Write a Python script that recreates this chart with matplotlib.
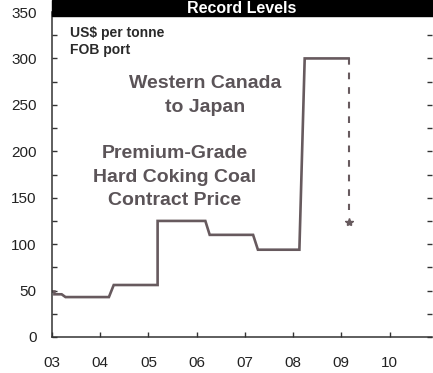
import matplotlib
matplotlib.use("Agg")
import matplotlib.pyplot as plt
from matplotlib.patches import Rectangle

plt.rcParams['font.family'] = ['Liberation Sans', 'DejaVu Sans']

# Contract price path (fractional year, US$ per tonne)
years = [2003.0, 2003.05, 2003.05, 2003.2, 2003.28, 2004.18, 2004.28, 2005.19, 2005.19,
         2006.18, 2006.27, 2007.17, 2007.27, 2008.13, 2008.24, 2009.15]
prices = [49, 49, 46, 46, 43, 43, 56, 56, 125,
          125, 110, 110, 94, 94, 300, 300]

# Expected settlement for the next contract year
proj_years = [2009.15, 2009.15]
proj_prices = [300, 137]
est_year = 2009.15
est_price = 124

year_ticks = [2003, 2004, 2005, 2006, 2007, 2008, 2009, 2010]
year_labels = ['03', '04', '05', '06', '07', '08', '09', '10']
price_ticks = [0, 50, 100, 150, 200, 250, 300, 350]

line_col = '#675a5e'
text_col = '#5b5458'

W, H = 433, 373
fig = plt.figure(figsize=(W / 100, H / 100), dpi=100)
ax = fig.add_axes([52 / W, (H - 337) / H, (432 - 52) / W, 325 / H])

ax.plot(years, prices, color=line_col, lw=1.9, solid_joinstyle='miter')
ax.plot(proj_years, proj_prices, color=line_col, lw=1.5, dashes=(3.2, 3.8))
ax.plot([est_year], [est_price], marker='*', color=line_col, ms=6, ls='none')

ax.set_xlim(2003, 2010.88)
ax.set_ylim(0, 350)
ax.set_xticks(year_ticks)
ax.set_xticklabels(year_labels)
ax.set_yticks(price_ticks)
ax.set_yticks(range(25, 350, 50), minor=True)
ax.tick_params(axis='both', which='both', direction='in', length=3.5, width=1,
               colors='#333333', labelsize=11, labelcolor='#222222')
ax.tick_params(axis='y', which='both', right=True, pad=11)
ax.tick_params(axis='x', pad=14)
ax.spines['top'].set_visible(False)
ax.spines['right'].set_visible(False)
for s in ('left', 'bottom'):
    ax.spines[s].set_color('#333333')
    ax.spines[s].set_linewidth(1.1)

ax.text(2003.37, 327, 'US$ per tonne', fontsize=10, color='#2a2a2a', va='center',
        ha='left', fontweight='semibold')
ax.text(2003.37, 309, 'FOB port', fontsize=10, color='#2a2a2a', va='center',
        ha='left', fontweight='semibold')

big = dict(fontsize=14, fontweight='bold', color=text_col, ha='center', va='center')
ax.text(2006.18, 273, 'Western Canada', **big)
ax.text(2006.18, 247.5, 'to Japan', **big)
ax.text(2005.55, 198, 'Premium-Grade', **big)
ax.text(2005.55, 172, 'Hard Coking Coal', **big)
ax.text(2005.55, 147, 'Contract Price', **big)

# Title banner across the top of the panel
fig.patches.append(Rectangle((52 / W, 1 - 16 / H), 1 - 52 / W, 16 / H,
                             transform=fig.transFigure, color='black', zorder=5))
fig.text(242 / W, 1 - 13 / H, 'Record Levels', color='white', fontsize=11.5,
         fontweight='bold', ha='center', va='baseline', zorder=6)

fig.savefig('out.png', dpi=100)
